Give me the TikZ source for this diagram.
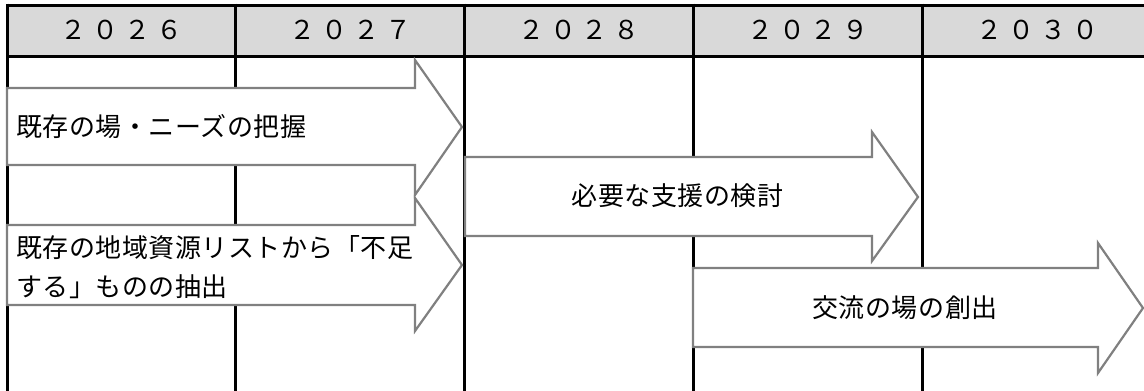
\documentclass[tikz,border=0pt]{standalone}
\usepackage{fontspec}
\newfontfamily\jpfont{Noto Sans CJK JP}[LetterSpace=2]
\newfontfamily\yrfont{Noto Sans CJK JP}[LetterSpace=22]
\definecolor{hdrgray}{HTML}{D9D9D9}
\definecolor{arrgray}{HTML}{808080}
\tikzset{
  gridline/.style={draw=black, line width=3pt},
  bararrow/.style={draw=arrgray, fill=white, line width=2.2pt, line join=miter},
  yearlabel/.style={inner sep=0pt, font=\yrfont\fontsize{26}{30}\selectfont},
  tasklabel/.style={inner sep=0pt, align=left, font=\jpfont\fontsize{26}{39}\selectfont},
}
\begin{document}
\begin{tikzpicture}[x=1pt,y=-1pt]
\useasboundingbox (0,0) rectangle (1144,391);
% header
\fill[hdrgray] (7,5) rectangle (1144,56);
\draw[gridline] (7,5) -- (1144,5);
\draw[gridline] (7,56.5) -- (1144,56.5);
\draw[gridline] (7,3.5) -- (7,391);
\foreach \x in {235.5,464,693,922} { \draw[gridline] (\x,3.5) -- (\x,391); }
\node[yearlabel] (y26) at (121.5,30) {２０２６};
\node[yearlabel] (y27) at (350.5,30) {２０２７};
\node[yearlabel] (y28) at (579,30) {２０２８};
\node[yearlabel] (y29) at (808,30) {２０２９};
\node[yearlabel] (y30) at (1037.5,30) {２０３０};
% arrows
\draw[bararrow] (7,88) -- (415,88) -- (415,60) -- (462,127) -- (415,195) -- (415,165) -- (7,165) -- cycle;
\draw[bararrow] (7,225) -- (415,225) -- (415,198) -- (462,265) -- (415,331) -- (415,305) -- (7,305) -- cycle;
\draw[bararrow] (465,157) -- (872,157) -- (872,132) -- (918,197) -- (872,261) -- (872,236) -- (465,236) -- cycle;
\draw[bararrow] (693,268) -- (1098,268) -- (1098,243) -- (1143,308) -- (1098,373) -- (1098,347) -- (693,347) -- cycle;
% labels
\node[tasklabel, anchor=west] (t1) at (16,127) {既存の場・ニーズの把握};
\node[tasklabel, anchor=west] (t2) at (16,267) {既存の地域資源リストから「不足\\する」ものの抽出};
\node[tasklabel] (t3) at (677.5,196) {必要な支援の検討};
\node[tasklabel] (t4) at (905,308) {交流の場の創出};
\end{tikzpicture}
\end{document}
